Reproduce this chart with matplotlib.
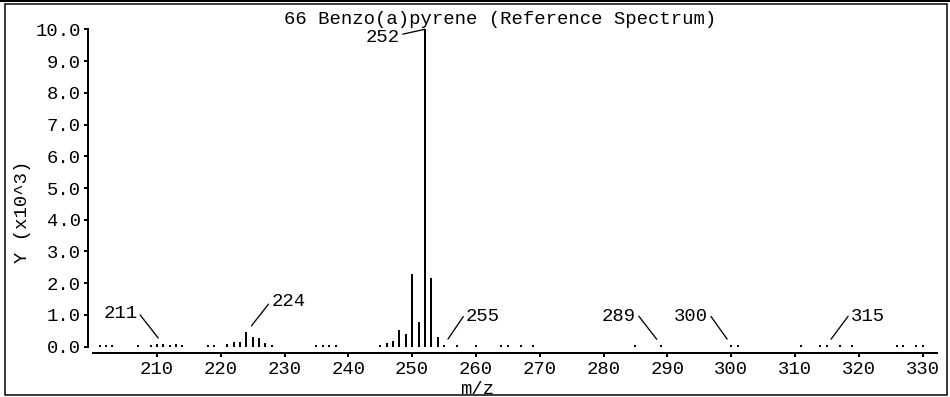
"""
Reference mass spectrum of benzo(a)pyrene, drawn as stick plot.
"""
import numpy as np
import matplotlib
matplotlib.use('Agg')
import matplotlib.pyplot as plt
from matplotlib.lines import Line2D
from matplotlib.patches import Rectangle

# data
mz = [201, 202, 203, 207, 209, 210, 211, 212, 213, 214,
      218, 219, 221, 222, 223, 224, 225, 226, 227, 228,
      235, 236, 237, 238,
      245, 246, 247, 248, 249, 250, 251, 252, 253, 254,
      255, 257, 260, 264, 265, 267, 269,
      285, 289, 300, 301, 311, 314, 315, 317, 319, 326, 327, 329, 330]
intensity = [0.06, 0.06, 0.06, 0.06, 0.06, 0.07, 0.07, 0.06, 0.07, 0.06,
             0.06, 0.06, 0.10, 0.15, 0.15, 0.45, 0.30, 0.28, 0.12, 0.06,
             0.06, 0.06, 0.06, 0.06,
             0.06, 0.12, 0.17, 0.54, 0.40, 2.29, 0.77, 10.0, 2.16, 0.29,
             0.06, 0.06, 0.06, 0.06, 0.06, 0.06, 0.06,
             0.06, 0.06, 0.06, 0.06, 0.06, 0.06, 0.06, 0.06, 0.06, 0.06,
             0.06, 0.06, 0.06]
x_ticks = list(range(210, 331, 10))
y_ticks = [0, 1, 2, 3, 4, 5, 6, 7, 8, 9, 10]
labelled = [211, 224, 252, 255, 289, 300, 315]

title = '66 Benzo(a)pyrene (Reference Spectrum)'

# style
W, H = 950, 397
fs = 13.6
px = 72 / 100.0
plt.rcParams['font.family'] = ['Liberation Mono', 'DejaVu Sans Mono']

fig = plt.figure(figsize=(W / 100, H / 100), dpi=100)

# axes geometry (pixels)
ax_l, ax_r, ax_t, ax_b = 88, 937, 29.3, 352.7
ax = fig.add_axes([ax_l / W, 1 - ax_b / H, (ax_r - ax_l) / W, (ax_b - ax_t) / H])

ax.vlines(mz, 0, intensity, colors='black', lw=2 * px)

xmin, xmax = 199.19, 332.26
ax.set_xlim(xmin, xmax)
ax.set_ylim(-0.189, 10.0)

for s in ['top', 'right']:
    ax.spines[s].set_visible(False)
for s in ['left', 'bottom']:
    ax.spines[s].set_linewidth(2 * px)
ax.spines['left'].set_bounds(0, 10)
ax.spines['bottom'].set_bounds(199.97, xmax)

ax.set_xticks(x_ticks)
ax.set_xticklabels([str(t) for t in x_ticks])
ax.set_yticks(y_ticks)
ax.set_yticklabels(['{:.1f}'.format(t) for t in y_ticks])
ax.tick_params(direction='out', length=4 * px, width=2 * px, labelsize=fs,
               colors='black')
ax.tick_params(axis='x', pad=4 * px)
ax.tick_params(axis='y', pad=3 * px)

# peak labels: (text offset px, ha, relpos, gap pt)
label_style = {
    211: ((-26, 26), 'right', (1, 0.65), 6),
    224: ((25, 26), 'left', (0, 0.58), 6),
    252: ((-25, -12.5), 'right', (1, 0.65), 0),
    255: ((22, 24), 'left', (0, 0.72), 5),
    289: ((-25, 24), 'right', (1, 0.72), 5),
    300: ((-23, 24), 'right', (1, 0.72), 5),
    315: ((24, 24), 'left', (0, 0.72), 5),
}
for m in labelled:
    h = intensity[mz.index(m)]
    off, ha, rp, gap = label_style[m]
    ax.annotate(str(m), xy=(m, h), xytext=off, textcoords='offset pixels',
                ha=ha, va='baseline', fontsize=fs,
                arrowprops=dict(arrowstyle='-', lw=1.3 * px, color='black',
                                shrinkA=0, shrinkB=gap, relpos=rp))

fig.text(500 / W, 1 - 19 / H, title, ha='center', va='center', fontsize=fs)
fig.text(477 / W, 1 - 389 / H, 'm/z', ha='center', va='center', fontsize=fs)
fig.text(23 / W, 1 - 212 / H, 'Y (x10^3)', ha='center', va='center',
         rotation=90, fontsize=fs)

# window frame
fig.add_artist(Line2D([0, 1], [1 - 1 / H, 1 - 1 / H], transform=fig.transFigure,
                      color='black', lw=2 * px))
fig.add_artist(Rectangle((5 / W, 1 - 395 / H), 942 / W, 391 / H,
                         transform=fig.transFigure, fill=False,
                         edgecolor='black', lw=1.5 * px))

fig.savefig('out.png', dpi=100)
